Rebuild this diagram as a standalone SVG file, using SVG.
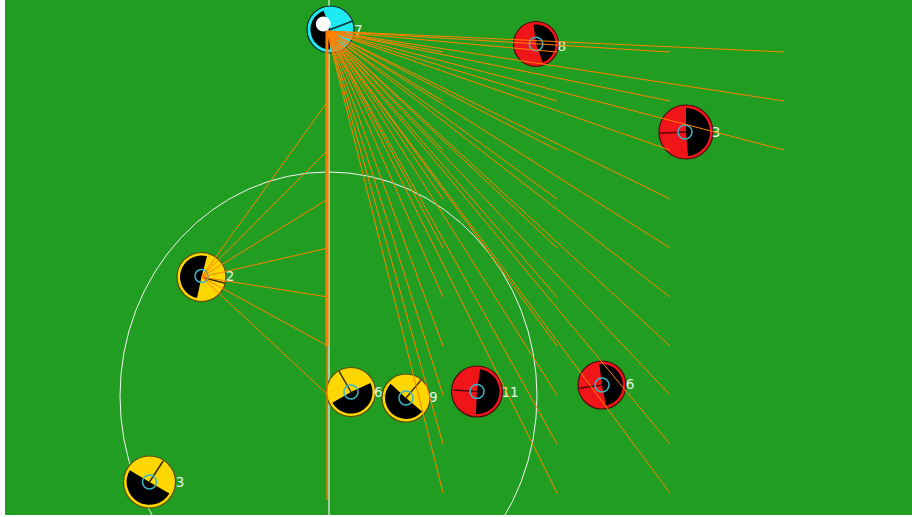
<svg xmlns="http://www.w3.org/2000/svg" width="912" height="517" viewBox="0 0 912 517">
<style>
.bg{fill:#219e22}
.ring{fill:none;stroke:#f4f4f4;stroke-width:1}
.red{fill:#ef1519;stroke:#4a0c0c;stroke-width:1.2}
.yel{fill:#ffd700;stroke:#5a4a10;stroke-width:1.2}
.cya{fill:#1fe9f2;stroke:#0a2a2a;stroke-width:1.2}
.blk{fill:#000}
.ptr-r{stroke:#5a0808;stroke-width:1.5}
.ptr-y{stroke:#3a2a00;stroke-width:1.5}
.eye{fill:none;stroke:#3ab7c9;stroke-width:1.5}
.lbl{font-family:"DejaVu Sans","Liberation Sans",sans-serif;font-size:13.5px;fill:#e4f5ea}
.c line{stroke:#ff8000;stroke-width:1}
</style>
<rect x="5" y="0" width="907" height="515" class="bg"/>
<ellipse cx="328.5" cy="396" rx="208.5" ry="224" class="ring"/>
<line x1="329" y1="0" x2="329" y2="517" stroke="#f4f4f4" stroke-width="1.2"/>

<g id="n7" transform="translate(330.5,29.5)">
<circle r="23.5" class="cya"/>
<path class="blk" d="M0,0 L-0.7,20 A20,20 0 0 1 -6.84,-18.79 Z"/>
<circle cx="-7.2" cy="-5.5" r="7.5" fill="#fff"/>
<line x1="0" y1="0" x2="22.8" y2="-8.8" stroke="#083030" stroke-width="1.5"/>
<text x="23.5" y="5.5" class="lbl">7</text>
</g>
<g id="n8" transform="translate(536,44)">
<circle r="22.5" class="red"/>
<path class="blk" d="M0,0 L-2.38,-19.35 A19.5,19.5 0 0 1 6.67,18.32 Z"/>
<circle r="6.8" class="eye"/>
<text x="21.5" y="6.5" class="lbl">8</text>
</g>
<g id="n3a" transform="translate(686,132)">
<circle r="27" class="red"/>
<path class="blk" d="M0,0 L0,-24 A24,24 0 0 1 2.09,23.91 Z"/>
<line x1="0" y1="0" x2="-26" y2="1.2" class="ptr-r"/>
<circle cx="-1" cy="0" r="7" class="eye"/>
<text x="25.7" y="4.5" class="lbl">3</text>
</g>
<g id="n2" transform="translate(201.5,277)">
<circle r="24.5" class="yel"/>
<path class="blk" d="M0,0 L-4.47,21.03 A21.5,21.5 0 1 1 5.56,-20.77 Z"/>
<line x1="0" y1="0" x2="23.5" y2="6.3" class="ptr-y"/>
<circle cx="0" cy="-1" r="6.5" class="eye"/>
<text x="24.2" y="4" class="lbl">2</text>
</g>
<g id="n6a" transform="translate(351,392)">
<circle r="24.5" class="yel"/>
<path class="blk" d="M0,0 L19.49,-9.09 A21.5,21.5 0 0 1 -18.62,10.75 Z"/>
<line x1="0" y1="0" x2="-12" y2="-20.8" class="ptr-y"/>
<circle r="7" class="eye"/>
<text x="23" y="4.5" class="lbl">6</text>
</g>
<g id="n9" transform="translate(406,398)">
<circle r="24" class="yel"/>
<path class="blk" d="M0,0 L16.09,13.5 A21,21 0 1 1 -15.36,-14.32 Z"/>
<line x1="0" y1="0" x2="14.78" y2="-17.62" class="ptr-y"/>
<circle r="7" class="eye"/>
<text x="23" y="3.5" class="lbl">9</text>
</g>
<g id="n11" transform="translate(477,391.5)">
<circle r="25.5" class="red"/>
<path class="blk" d="M0,0 L3.13,-22.28 A22.5,22.5 0 0 1 -1.18,22.47 Z"/>
<line x1="0" y1="0" x2="-23.7" y2="-1.5" class="ptr-r"/>
<circle r="7" class="eye"/>
<text x="24.5" y="5" class="lbl">11</text>
</g>
<g id="n6b" transform="translate(602,385)">
<circle r="24" class="red"/>
<path class="blk" d="M0,0 L-2.56,-20.84 A21,21 0 0 1 4.01,20.61 Z"/>
<line x1="0" y1="0" x2="-22.7" y2="3.3" class="ptr-r"/>
<circle r="7" class="eye"/>
<text x="23.7" y="4" class="lbl">6</text>
</g>
<g id="n3b" transform="translate(149.5,482)">
<circle r="26" class="yel"/>
<path class="blk" d="M0,0 L19.92,11.5 A23,23 0 1 1 -19.72,-11.85 Z"/>
<line x1="0" y1="0" x2="13.62" y2="-20.97" class="ptr-y"/>
<circle r="7" class="eye"/>
<text x="26.2" y="4.5" class="lbl">3</text>
</g>

<g id="connectors" class="c">
<line x1="327" y1="31" x2="327" y2="346" style="stroke-width:3"/>
<line x1="327" y1="346" x2="327" y2="500" style="stroke-width:1.3"/>
<line x1="327" y1="31" x2="443" y2="52"/>
<line x1="327" y1="31" x2="443" y2="101"/>
<line x1="327" y1="31" x2="443" y2="150"/>
<line x1="327" y1="31" x2="443" y2="199"/>
<line x1="327" y1="31" x2="443" y2="248"/>
<line x1="327" y1="31" x2="443" y2="297"/>
<line x1="327" y1="31" x2="443" y2="346"/>
<line x1="327" y1="31" x2="443" y2="395"/>
<line x1="327" y1="31" x2="443" y2="444"/>
<line x1="327" y1="31" x2="443" y2="493"/>
<line x1="327" y1="31" x2="557" y2="52"/>
<line x1="327" y1="31" x2="557" y2="101"/>
<line x1="327" y1="31" x2="557" y2="150"/>
<line x1="327" y1="31" x2="557" y2="199"/>
<line x1="327" y1="31" x2="557" y2="248"/>
<line x1="327" y1="31" x2="557" y2="297"/>
<line x1="327" y1="31" x2="557" y2="346"/>
<line x1="327" y1="31" x2="557" y2="395"/>
<line x1="327" y1="31" x2="557" y2="444"/>
<line x1="327" y1="31" x2="557" y2="493"/>
<line x1="327" y1="31" x2="670" y2="52"/>
<line x1="327" y1="31" x2="670" y2="101"/>
<line x1="327" y1="31" x2="670" y2="150"/>
<line x1="327" y1="31" x2="670" y2="199"/>
<line x1="327" y1="31" x2="670" y2="248"/>
<line x1="327" y1="31" x2="670" y2="297"/>
<line x1="327" y1="31" x2="670" y2="346"/>
<line x1="327" y1="31" x2="670" y2="395"/>
<line x1="327" y1="31" x2="670" y2="444"/>
<line x1="327" y1="31" x2="670" y2="493"/>
<line x1="327" y1="31" x2="784" y2="52"/>
<line x1="327" y1="31" x2="784" y2="101"/>
<line x1="327" y1="31" x2="784" y2="150"/>
<line x1="201.5" y1="277" x2="328" y2="101"/>
<line x1="201.5" y1="277" x2="328" y2="150"/>
<line x1="201.5" y1="277" x2="328" y2="199"/>
<line x1="201.5" y1="277" x2="328" y2="248"/>
<line x1="201.5" y1="277" x2="328" y2="297"/>
<line x1="201.5" y1="277" x2="328" y2="346"/>
<line x1="201.5" y1="277" x2="328" y2="395"/>
</g>
</svg>
